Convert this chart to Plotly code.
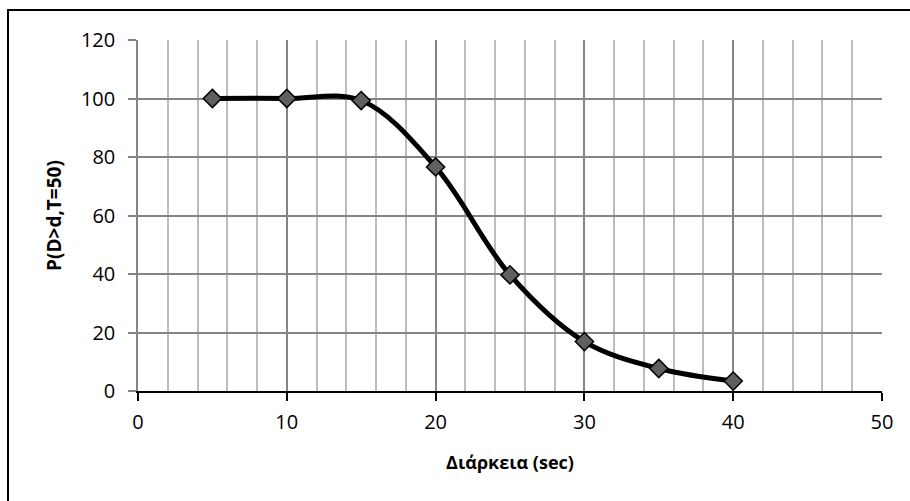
import plotly.graph_objects as go

durations = [5, 10, 15, 20, 25, 30, 35, 40]
probability = [100, 100, 99.3, 76.6, 39.7, 16.9, 7.7, 3.4]
x_title = "Διάρκεια (sec)"
y_title = "P(D>d,T=50)"

W, H = 910, 501
L, R, T, B = 138, 28, 40, 110
pw, ph = W - L - R, H - T - B

fig = go.Figure()
fig.add_trace(go.Scatter(
    x=durations, y=probability, mode="lines+markers",
    line=dict(color="black", width=5, shape="spline", smoothing=1.0),
    marker=dict(symbol="diamond", size=14, color="#5f5f5f",
                line=dict(color="black", width=1.5)),
    showlegend=False, cliponaxis=False,
))

font = dict(family="Open Sans, Liberation Sans, sans-serif", size=20, color="black")

fig.update_layout(
    width=W, height=H,
    margin=dict(l=L, r=R, t=T, b=B),
    paper_bgcolor="white", plot_bgcolor="white",
    font=font,
    xaxis=dict(
        range=[0, 50], dtick=10, tick0=0,
        showgrid=True, gridcolor="#858585", gridwidth=1.5,
        minor=dict(dtick=2, showgrid=True, gridcolor="#bdbdbd", gridwidth=1.5, ticks=""),
        showline=True, linecolor="black", linewidth=2,
        ticks="outside", ticklen=8, tickcolor="black", tickwidth=2,
        tickfont=dict(size=20),
        ticklabelstandoff=4,
        zeroline=False,
        title=dict(text="<b>" + x_title + "</b>", font=dict(size=18), standoff=22),
    ),
    yaxis=dict(
        range=[0, 120], dtick=20, tick0=0,
        showgrid=True, gridcolor="#858585", gridwidth=1.5,
        showline=True, linecolor="#858585", linewidth=1.5,
        ticks="outside", ticklen=8, tickcolor="#858585", tickwidth=1.5,
        tickfont=dict(size=20),
        ticklabelstandoff=9,
        zeroline=False,
        title=dict(text="<b>" + y_title + "</b>", font=dict(size=19), standoff=14),
    ),
)

# outer chart border (right and bottom edges fall outside the visible canvas)
fig.add_shape(type="rect", xref="paper", yref="paper",
              x0=(8 - L) / pw, x1=(915 - L) / pw,
              y0=(H - B - 506) / ph, y1=(H - B - 10) / ph,
              line=dict(color="black", width=2), fillcolor="rgba(0,0,0,0)", layer="below")

fig.write_html("out.html")
